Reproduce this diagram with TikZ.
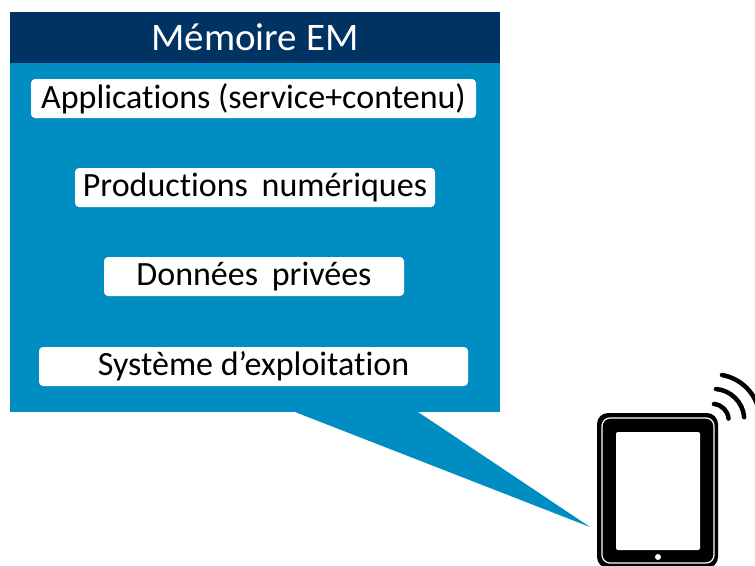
\documentclass[tikz,border=0pt]{standalone}
\usepackage{fontspec}
\setmainfont[Ligatures=NoCommon]{Carlito}
\definecolor{bleu}{RGB}{0,142,194}
\definecolor{marine}{RGB}{0,51,98}
\begin{document}
\begin{tikzpicture}[x=1pt,y=-1pt,
    case/.style={fill=white,rounded corners=4pt,text=black,font=\fontsize{34}{38}\selectfont,minimum height=39pt,inner sep=0pt},
    onde/.style={draw=black,line width=4.5pt,line cap=round}]
  \useasboundingbox (0,0) rectangle (755,565);
  \fill[bleu] (295,412) -- (590,527) -- (418,412) -- cycle;
  \node[fill=bleu,minimum width=490pt,minimum height=349pt,inner sep=0pt] (corps) at (255,237.5) {};
  \node[fill=marine,text=white,font=\fontsize{39}{42}\selectfont,minimum width=490pt,minimum height=51pt,inner sep=0pt] (titre) at (255,37.5) {Mémoire EM};
  \node[case,minimum width=445pt] (applis) at (253.5,98.5) {Applications (service+contenu)};
  \node[case,minimum width=360pt] (prod) at (255,187.5) {Productions\hspace{6pt} numériques};
  \node[case,minimum width=300pt] (donnees) at (254,276.5) {Données\hspace{6pt} privées};
  \node[case,minimum width=429pt] (systeme) at (253.5,366.5) {Système d’exploitation};
  % tablette
  \begin{scope}
    \clip (0,0) rectangle (755,565);
    \fill[black,rounded corners=11pt] (597,413) rectangle (718,568);
    \draw[white,line width=1.2pt,rounded corners=8pt] (602,418) rectangle (714,563);
    \fill[white,rounded corners=2pt] (616,432) rectangle (700,550);
    \fill[white] (658,557) circle (3pt);
    \draw[onde] (714,404) arc[start angle=-85,end angle=-5,radius=16];
    \draw[onde] (716,389) arc[start angle=-85,end angle=-5,radius=31];
    \draw[onde] (722,375) arc[start angle=-80,end angle=-5,radius=46];
  \end{scope}
\end{tikzpicture}
\end{document}
